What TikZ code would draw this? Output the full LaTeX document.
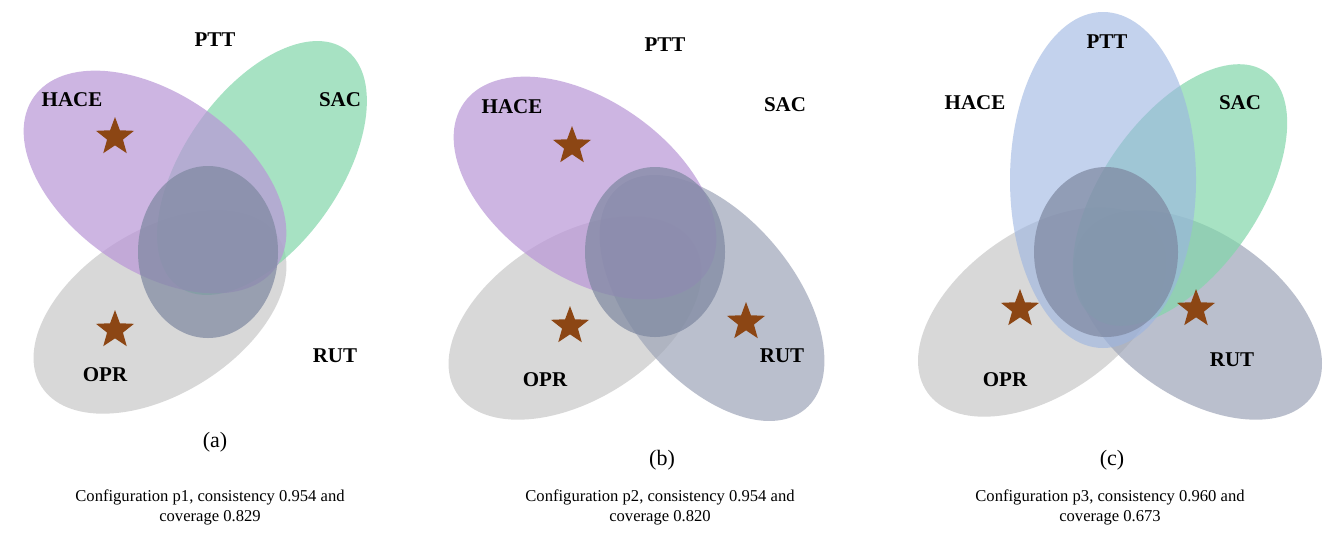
\documentclass[tikz,border=0pt]{standalone}
\usepackage{fontspec}
\setmainfont{Liberation Serif}
\usetikzlibrary{shapes.geometric}
\definecolor{cpur}{RGB}{185,150,215}
\definecolor{cgrn}{RGB}{130,215,170}
\definecolor{cgry}{RGB}{200,200,200}
\definecolor{cslt}{RGB}{125,135,160}
\definecolor{cblu}{RGB}{155,180,225}
\definecolor{cstar}{RGB}{140,70,20}
\tikzset{
  set/.style={fill opacity=0.7, draw=none},
  lab/.style={font=\bfseries\fontsize{10.5}{12}\selectfont},
  captxt/.style={font=\fontsize{11}{13}\selectfont},
  desc/.style={font=\fontsize{8.3}{10}\selectfont, align=center},
  mystar/.style={star, star points=5, star point ratio=2.4, fill=cstar, minimum size=20pt, inner sep=0pt}
}
\begin{document}
\begin{tikzpicture}[x=0.5pt,y=-0.5pt]
\useasboundingbox (0,0) rectangle (1325,536);
\fill[white] (0,0) rectangle (1325,536);
% (a)
\fill[set,cgry] (160,312) ellipse[x radius=140,y radius=82,rotate=32];
\fill[set,cgrn] (262,168) ellipse[x radius=145,y radius=78,rotate=55];
\fill[set,cpur] (155,182) ellipse[x radius=148,y radius=88,rotate=-35];
\fill[set,cslt] (208,252) ellipse[x radius=70,y radius=86];
\node[mystar] (sa1) at (115,137) {};
\node[mystar] (sa2) at (115,330) {};
\node[lab] (aptt) at (215,40) {PTT};
\node[lab] (ahace) at (72,100) {HACE};
\node[lab] (asac) at (340,100) {SAC};
\node[lab] (aopr) at (105,375) {OPR};
\node[lab] (arut) at (335,356) {RUT};
\node[captxt] (acap) at (215,442) {(a)};
\node[desc] (adesc) at (210,507) {Configuration p1, consistency 0.954 and\\coverage 0.829};
% (b)
\fill[set,cgry] (575,318) ellipse[x radius=140,y radius=82,rotate=32];
\fill[set,cslt!75] (712,298) ellipse[x radius=145,y radius=82,rotate=-50];
\fill[set,cpur] (585,188) ellipse[x radius=148,y radius=88,rotate=-35];
\fill[set,cslt] (655,252) ellipse[x radius=70,y radius=85];
\node[mystar] (sb1) at (572,146) {};
\node[mystar] (sb2) at (570,326) {};
\node[mystar] (sb3) at (746,322) {};
\node[lab] (bptt) at (665,45) {PTT};
\node[lab] (bhace) at (512,107) {HACE};
\node[lab] (bsac) at (785,105) {SAC};
\node[lab] (bopr) at (545,380) {OPR};
\node[lab] (brut) at (782,356) {RUT};
\node[captxt] (bcap) at (662,460) {(b)};
\node[desc] (bdesc) at (660,507) {Configuration p2, consistency 0.954 and\\coverage 0.820};
% (c)
\fill[set,cgry] (1042,312) ellipse[x radius=140,y radius=82,rotate=35];
\fill[set,cslt!75] (1198,315) ellipse[x radius=140,y radius=82,rotate=-35];
\fill[set,cgrn] (1180,195) ellipse[x radius=150,y radius=78,rotate=55];
\fill[set,cblu,fill opacity=0.6] (1103,180) ellipse[x radius=93,y radius=168];
\fill[set,cslt] (1106,252) ellipse[x radius=72,y radius=85];
\node[mystar] (sc1) at (1020,309) {};
\node[mystar] (sc2) at (1196,309) {};
\node[lab] (cptt) at (1107,42) {PTT};
\node[lab] (chace) at (975,103) {HACE};
\node[lab] (csac) at (1240,103) {SAC};
\node[lab] (copr) at (1005,380) {OPR};
\node[lab] (crut) at (1232,360) {RUT};
\node[captxt] (ccap) at (1112,460) {(c)};
\node[desc] (cdesc) at (1110,507) {Configuration p3, consistency 0.960 and\\coverage 0.673};
\end{tikzpicture}
\end{document}
